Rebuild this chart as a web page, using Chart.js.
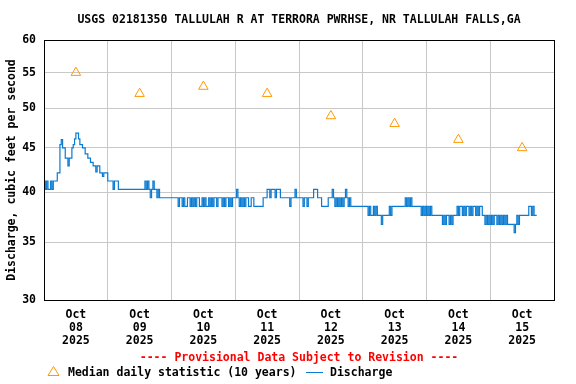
<!DOCTYPE html>
<html>
<head>
<meta charset="utf-8">
<script src="https://cdn.jsdelivr.net/npm/chart.js@4/dist/chart.umd.min.js"></script>
<style>
  html, body { margin: 0; padding: 0; background: #fff; }
</style>
</head>
<body>
<canvas id="myChart" width="576" height="384"></canvas>
<script>
// Station title and text
const chartTitle = "USGS 02181350 TALLULAH R AT TERRORA PWRHSE, NR TALLULAH FALLS,GA";
const yTitle = "Discharge, cubic feet per second";
const provisionalText = "---- Provisional Data Subject to Revision ----";
const legendLabels = ["Median daily statistic (10 years)", "Discharge"];

// x axis: days shown (labels sit at noon of each day)
const tickMonth = "Oct";
const tickDays = ["08", "09", "10", "11", "12", "13", "14", "15"];
const tickYear = "2025";

// y axis ticks (log scale)
const yTicks = [30, 35, 40, 45, 50, 55, 60];

// Median daily statistic, one per day
const medianValues = [55, 52, 53, 52, 49, 48, 46, 45];

// Discharge, cfs, read every 30 minutes starting at midnight
const oct08 = [41.2, 40.3, 41.2, 40.3, 40.3, 41.2, 40.3, 41.2, 41.2, 41.2,
  42.1, 42.1, 45.4, 46.0, 45.0, 45.0, 43.8, 43.8, 42.9, 43.8,
  43.8, 45.0, 45.4, 46.1, 46.8, 46.8, 46.1, 45.4, 45.4, 45.0,
  45.0, 44.3, 44.3, 43.8, 43.8, 43.3, 43.3, 42.9, 42.9, 42.2,
  42.9, 42.9, 42.1, 42.1, 41.7, 42.1, 42.1, 42.1];
const oct09 = [41.2, 41.2, 41.2, 41.2, 40.3, 41.2, 41.2, 41.2, 40.3, 40.3,
  40.3, 40.3, 40.3, 40.3, 40.3, 40.3, 40.3, 40.3, 40.3, 40.3,
  40.3, 40.3, 40.3, 40.3, 40.3, 40.3, 40.3, 40.3,
  41.2, 40.3, 41.2, 40.3, 39.4, 40.3, 41.2, 40.3, 40.3, 39.4,
  40.3, 39.4, 39.4, 39.4, 39.4, 39.4, 39.4, 39.4, 39.4, 39.4];
const oct10 = [39.4, 39.4, 39.4, 39.4, 39.4,
  38.5, 39.4, 39.4, 38.5, 39.4, 38.5, 38.5, 39.4, 39.4, 38.5,
  39.4, 38.5, 39.4, 38.5, 39.4, 39.4, 38.5, 38.5, 39.4, 38.5,
  39.4, 38.5, 38.5, 39.4, 38.5, 39.4, 38.5, 39.4, 39.4, 38.5,
  39.4, 39.4, 39.4, 38.5, 39.4, 38.5, 39.4, 39.4, 38.5, 39.4,
  38.5, 39.4, 39.4];
const oct11 = [39.4, 40.3, 39.4, 38.5, 39.4, 38.5, 39.4, 38.5, 39.4, 39.4,
  38.5, 38.5, 39.4, 39.4, 38.5, 38.5, 38.5, 38.5, 38.5, 38.5, 38.5,
  39.4, 39.4, 39.4,
  40.3, 40.3, 39.4, 40.3, 40.3, 40.3, 39.4, 40.3, 40.3, 40.3, 39.4,
  39.4, 39.4, 39.4, 39.4, 39.4, 39.4, 38.5, 39.4, 39.4, 39.4, 40.3, 39.4, 39.4];
const oct12 = [39.4, 39.4, 39.4, 38.5, 39.4, 39.4, 38.5, 39.4, 39.4, 39.4,
  39.4, 40.3, 40.3, 40.3, 39.4, 39.4, 39.4, 38.5, 38.5, 38.5,
  38.5, 38.5, 39.4, 39.4, 39.4, 40.3, 39.4, 38.5, 39.4, 38.5,
  39.4, 38.5, 39.4, 38.5, 39.4, 40.3, 39.4, 38.5, 39.4, 38.5,
  38.5, 38.5, 38.5, 38.5, 38.5, 38.5, 38.5, 38.5];
const oct13 = [38.5, 38.5, 38.5, 38.5, 37.6, 38.5, 37.6, 37.6, 38.5, 37.6,
  38.5, 37.6, 37.6, 37.6, 36.7, 37.6, 37.6, 37.6, 37.6, 37.6,
  38.5, 37.6, 38.5, 38.5, 38.5, 38.5, 38.5, 38.5, 38.5, 38.5,
  38.5, 38.5, 39.4, 38.5, 39.4, 38.5, 39.4, 38.5, 38.5, 38.5,
  38.5, 38.5, 38.5, 38.5, 37.6, 38.5, 37.6, 38.5];
const oct14 = [37.6, 38.5, 37.6, 38.5, 37.6, 37.6, 37.6, 37.6, 37.6, 37.6,
  37.6, 37.6, 36.7, 37.6, 36.7, 37.6, 37.6, 36.7, 37.6, 36.7,
  37.6, 37.6, 37.6, 38.5, 37.6, 38.5, 38.5, 37.6, 38.5, 37.6,
  38.5, 38.5, 37.6, 38.5, 37.6, 38.5, 38.5, 37.6, 38.5, 37.6,
  38.5, 38.5, 37.6, 37.6, 36.7, 37.6, 36.7, 37.6];
const oct15 = [36.7, 37.6, 36.7, 37.6, 37.6, 36.7, 37.6, 36.7, 37.6, 36.7,
  37.6, 36.7, 37.6, 36.7, 36.7, 36.7, 36.7, 36.7, 35.9, 36.7,
  37.6, 36.7, 37.6, 37.6, 37.6, 37.6, 37.6, 37.6, 37.6, 38.5,
  38.5, 37.6, 38.5, 37.6, 37.6, 37.6];

const dischargeDays = [oct08, oct09, oct10, oct11, oct12, oct13, oct14, oct15];

const medianColor = "#ff9900";
const dischargeColor = "#0b7bd1";
const gridColor = "#c8c8c8";
const FONT = '"DejaVu Sans Mono", monospace';

// x is hours since Oct 08 00:00
let dischargePoints = [];
dischargeDays.forEach((day, d) => {
  day.forEach((v, i) => {
    dischargePoints.push({ x: d * 24 + i * 0.5, y: v });
  });
});
const medianPoints = medianValues.map((v, d) => ({ x: d * 24 + 12, y: v }));

// ticks every 12 h: midnight gets a grid line, noon gets the label
let xTickValues = [];
for (let h = 0; h <= tickDays.length * 24; h += 12) {
  xTickValues.push(h);
}

// black box round the plot plus the bottom legend
const frameAndLegend = {
  id: "frameAndLegend",
  afterDraw(chart) {
    const { ctx, chartArea } = chart;
    ctx.save();
    ctx.strokeStyle = "#000";
    ctx.lineWidth = 1;
    ctx.strokeRect(
      Math.round(chartArea.left) + 0.5,
      Math.round(chartArea.top) + 0.5,
      Math.round(chartArea.right - chartArea.left),
      Math.round(chartArea.bottom - chartArea.top)
    );

    ctx.font = "bold 11.5px " + FONT;
    ctx.textBaseline = "middle";
    ctx.textAlign = "center";
    ctx.fillStyle = "#ff0000";
    ctx.fillText(provisionalText, (chartArea.left + chartArea.right) / 2, 358);

    // triangle marker
    ctx.strokeStyle = medianColor;
    ctx.beginPath();
    ctx.moveTo(53.5, 366.5);
    ctx.lineTo(59, 375.5);
    ctx.lineTo(48, 375.5);
    ctx.closePath();
    ctx.stroke();

    ctx.textAlign = "left";
    ctx.fillStyle = "#000";
    ctx.fillText(legendLabels[0], 68, 373);

    ctx.strokeStyle = dischargeColor;
    ctx.beginPath();
    ctx.moveTo(306, 372.5);
    ctx.lineTo(323, 372.5);
    ctx.stroke();
    ctx.fillText(legendLabels[1], 330, 373);
    ctx.restore();
  },
};

const ctx = document.getElementById("myChart").getContext("2d");
new Chart(ctx, {
  type: "line",
  data: {
    datasets: [
      {
        label: legendLabels[1],
        data: dischargePoints,
        borderColor: dischargeColor,
        borderWidth: 1.2,
        pointRadius: 0,
        stepped: true,
        fill: false,
      },
      {
        label: legendLabels[0],
        data: medianPoints,
        showLine: false,
        pointStyle: "triangle",
        pointRadius: 5.5,
        borderColor: medianColor,
        backgroundColor: "rgba(0,0,0,0)",
        borderWidth: 1,
      },
    ],
  },
  options: {
    responsive: false,
    animation: false,
    events: [],
    layout: { padding: { left: 0, right: 22, top: 0, bottom: 0 } },
    scales: {
      x: {
        type: "linear",
        min: 0,
        max: tickDays.length * 24,
        afterBuildTicks: (scale) => {
          scale.ticks = xTickValues.map((v) => ({ value: v }));
        },
        afterFit: (scale) => {
          scale.height = 84;
        },
        border: { display: false },
        grid: {
          drawTicks: false,
          color: (c) =>
            c.tick && c.tick.value % 24 === 0 ? gridColor : "rgba(0,0,0,0)",
        },
        ticks: {
          autoSkip: false,
          maxRotation: 0,
          minRotation: 0,
          padding: 8,
          color: "#000",
          font: { family: FONT, size: 11.5, weight: "bold", lineHeight: 1.15 },
          callback: (value) => {
            if (value % 24 !== 12) return "";
            const d = Math.floor(value / 24);
            return [tickMonth, tickDays[d], tickYear];
          },
        },
      },
      y: {
        type: "logarithmic",
        min: 30,
        max: 60,
        afterBuildTicks: (scale) => {
          scale.ticks = yTicks.map((v) => ({ value: v }));
        },
        afterFit: (scale) => {
          scale.width = 44;
        },
        border: { display: false },
        grid: { drawTicks: false, color: gridColor },
        ticks: {
          padding: 8,
          color: "#000",
          font: { family: FONT, size: 11.5, weight: "bold" },
          callback: (value) => String(value),
        },
        title: {
          display: true,
          text: yTitle,
          color: "#000",
          padding: { top: 5, bottom: 0 },
          font: { family: FONT, size: 11.5, weight: "bold" },
        },
      },
    },
    plugins: {
      legend: { display: false },
      tooltip: { enabled: false },
      title: {
        display: true,
        text: chartTitle,
        fullSize: false,
        color: "#000",
        padding: { top: 13.5, bottom: 12.7 },
        font: { family: FONT, size: 11.5, weight: "bold" },
      },
    },
  },
  plugins: [frameAndLegend],
});
</script>
</body>
</html>
